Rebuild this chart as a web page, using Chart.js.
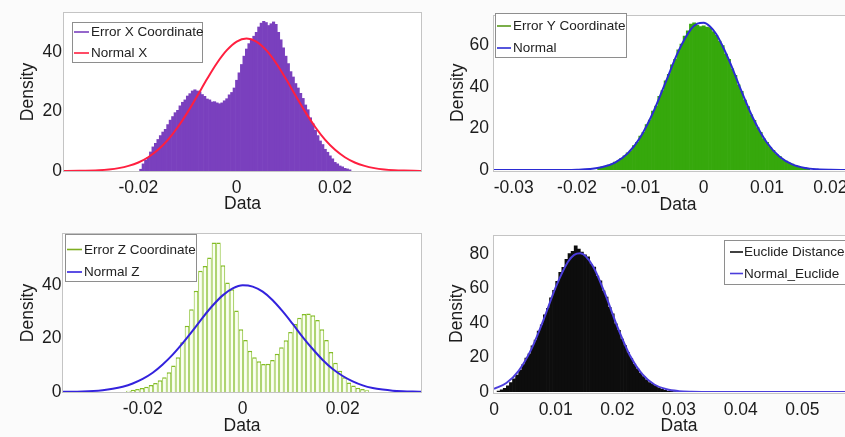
<!DOCTYPE html>
<html>
<head>
<meta charset="utf-8">
<title>Coordinate error distributions</title>
<script src="https://cdn.jsdelivr.net/npm/chart.js@4.4.1/dist/chart.umd.min.js"></script>
<style>
  html, body { margin: 0; padding: 0; width: 845px; height: 437px; overflow: hidden; background: #fbfbfb; }
  canvas { position: absolute; display: block; }
</style>
</head>
<body>
<canvas id="panelX"></canvas>
<canvas id="panelY"></canvas>
<canvas id="panelZ"></canvas>
<canvas id="panelE"></canvas>
<script>
// ---------------- Error X coordinate ----------------
const errXFirstBin = -0.0195;   // centre of the first bin
const errXBinWidth = 0.0005;
const errXDensity = [
  0.6, 2.4, 3.6, 4.6, 6.4, 8.1, 9.3, 10.6, 11.9, 13.1,
  14.0, 15.6, 17.1, 18.3, 19.6, 20.4, 21.9, 23.1, 23.9, 25.2,
  26.0, 26.9, 27.3, 26.9, 26.6, 25.7, 25.1, 24.2, 23.9, 23.2,
  23.3, 22.9, 22.6, 22.9, 23.6, 24.3, 25.6, 26.4, 27.9, 30.5,
  33.0, 35.8, 38.6, 41.0, 42.8, 44.2, 45.3, 46.6, 48.4, 49.7,
  50.3, 49.9, 48.9, 49.5, 50.1, 49.3, 46.6, 44.1, 41.4, 38.6,
  36.1, 33.4, 31.6, 29.4, 27.9, 26.1, 24.4, 22.2, 20.6, 17.9,
  15.9, 13.7, 11.9, 10.1, 8.9, 7.3, 6.3, 5.1, 4.1, 2.9,
  2.4, 1.7, 1.4, 0.9, 0.7, 0.4
];
const normalXAt = [
  -0.036, -0.032, -0.028, -0.026, -0.024, -0.022, -0.020, -0.018, -0.016, -0.014,
  -0.012, -0.010, -0.008, -0.006, -0.004, -0.002, 0, 0.002, 0.004, 0.006,
  0.008, 0.010, 0.012, 0.014, 0.016, 0.018, 0.020, 0.022, 0.024, 0.026,
  0.028, 0.030, 0.032, 0.034, 0.036, 0.038
];
const normalXDensity = [
  0.01, 0.06, 0.27, 0.53, 0.97, 1.71, 2.87, 4.63, 7.11, 10.45,
  14.7, 19.7, 25.3, 31.0, 36.3, 40.6, 43.5, 44.5, 43.5, 40.6,
  36.3, 31.0, 25.3, 19.7, 14.7, 10.45, 7.11, 4.63, 2.87, 1.71,
  0.97, 0.53, 0.27, 0.13, 0.06, 0.03
];
const ticksX_X = [-0.02, 0, 0.02];
const ticksX_Y = [0, 20, 40];

// ---------------- Error Y coordinate ----------------
const errYFirstBin = -0.0165;
const errYBinWidth = 0.0005;
const errYDensity = [
  0.9, 1.5, 1.7, 2.4, 2.8, 3.8, 4.3, 5.6, 6.8, 8.3,
  9.4, 11.8, 13.3, 16.3, 18.1, 21.8, 24.0, 28.3, 30.8, 35.4,
  38.2, 42.9, 46.0, 50.6, 53.3, 57.8, 60.6, 64.5, 67.0, 70.2,
  70.8, 69.6, 69.0, 69.4, 68.8, 68.5, 66.6, 64.8, 62.0, 59.9,
  55.8, 53.2, 48.7, 45.6, 41.0, 37.9, 33.6, 30.5, 26.6, 23.9,
  20.4, 18.1, 15.0, 13.3, 10.9, 9.5, 7.5, 6.6, 5.0, 4.3,
  3.3, 2.8, 2.1, 1.8, 1.2, 1.0, 0.7
];
const normalYAt = [
  -0.034, -0.030, -0.026, -0.022, -0.020, -0.018, -0.016, -0.014, -0.012, -0.010,
  -0.008, -0.006, -0.004, -0.002, -0.001, 0, 0.001, 0.002, 0.004, 0.006,
  0.008, 0.010, 0.012, 0.014, 0.016, 0.018, 0.020, 0.022, 0.026
];
const normalYDensity = [
  0, 0, 0.01, 0.04, 0.15, 0.48, 1.4, 3.6, 8.0, 15.8,
  27.6, 42.3, 57.1, 67.8, 70.4, 70.9, 69.1, 65.3, 52.9, 37.7,
  23.7, 13.1, 6.4, 2.7, 1.0, 0.34, 0.1, 0.03, 0
];
const ticksY_X = [-0.03, -0.02, -0.01, 0, 0.01, 0.02];
const ticksY_Y = [0, 20, 40, 60];

// ---------------- Error Z coordinate ----------------
const errZFirstBin = -0.02285;
const errZBinWidth = 0.0009;
const errZDensity = [
  0.5, 0.8, 1.1, 1.5, 2.0, 2.6, 3.4, 4.4, 5.5, 7.4,
  9.9, 13.0, 18.6, 24.8, 31.0, 37.9, 45.4, 47.2, 50.4, 56.0,
  56.0, 47.5, 41.0, 38.5, 30.5, 23.5, 19.5, 15.5, 13.0, 11.5,
  10.5, 10.6, 12.0, 14.3, 16.8, 19.4, 22.5, 25.5, 27.8, 29.2,
  29.4, 28.8, 27.0, 23.5, 19.5, 15.0, 11.0, 8.0, 5.5, 3.6,
  2.4, 1.6, 1.1, 0.7
];
const normalZAt = [
  -0.036, -0.032, -0.028, -0.026, -0.024, -0.022, -0.020, -0.018, -0.016, -0.014,
  -0.012, -0.010, -0.008, -0.006, -0.004, -0.002, 0, 0.002, 0.004, 0.006,
  0.008, 0.010, 0.012, 0.014, 0.016, 0.018, 0.020, 0.022, 0.024, 0.026,
  0.028, 0.030, 0.032, 0.034, 0.036
];
const normalZDensity = [
  0.05, 0.2, 0.69, 1.2, 2.0, 3.2, 4.9, 7.2, 10.3, 14.0,
  18.3, 23.0, 27.9, 32.4, 36.2, 38.8, 40.0, 39.5, 37.6, 34.4,
  30.2, 25.5, 20.6, 16.1, 12.0, 8.6, 6.0, 4.0, 2.5, 1.5,
  0.9, 0.5, 0.28, 0.15, 0.07
];
const ticksZ_X = [-0.02, 0, 0.02];
const ticksZ_Y = [0, 20, 40];

// ---------------- Euclidean distance ----------------
const distFirstBin = 0.00075;
const distBinWidth = 0.0005;
const distDensity = [
  0.5, 1.2, 2.2, 3.6, 5.4, 7.6, 9.8, 12.6, 15.9, 19.6,
  22.1, 26.8, 30.1, 35.3, 39.0, 44.8, 48.5, 54.6, 58.9, 64.2,
  69.4, 72.3, 76.9, 80.2, 81.6, 84.7, 82.9, 81.2, 79.6, 78.4,
  74.1, 72.5, 67.2, 64.4, 58.6, 55.0, 49.1, 45.3, 39.6, 35.8,
  30.7, 26.9, 22.8, 19.5, 16.2, 13.5, 11.0, 8.9, 7.0, 5.5,
  4.4, 3.4, 2.4, 1.6, 1.0, 0.6, 0.4, 0.25, 0.15, 0.1
];
const normalDistAt = [
  0, 0.002, 0.004, 0.006, 0.008, 0.010, 0.012, 0.013, 0.014, 0.016,
  0.018, 0.020, 0.022, 0.024, 0.026, 0.028, 0.030, 0.032, 0.034, 0.038,
  0.046, 0.054, 0.062
];
const normalDistDensity = [
  1.9, 5.2, 12.3, 24.4, 41.6, 60.7, 75.5, 79.5, 80.4, 73.2,
  57.0, 37.9, 21.5, 10.5, 4.35, 1.55, 0.47, 0.12, 0.03, 0,
  0, 0, 0
];
const ticksE_X = [0, 0.01, 0.02, 0.03, 0.04, 0.05];
const ticksE_Y = [0, 20, 40, 60, 80];

// ---------------- drawing ----------------
const FONT = '"Liberation Sans", Arial, Helvetica, sans-serif';
const TEXT = '#1c1c1c';
const AXIS_SIZE = 17.5;

function binPoints(first, width, values) {
  return values.map((v, i) => ({ x: first + i * width, y: v }));
}
function curvePoints(xs, ys) {
  return xs.map((x, i) => ({ x: x, y: ys[i] }));
}
function tickLabel(v) {
  return String(+Number(v).toFixed(4));
}

// white plot area with a light box around it
const framePlugin = {
  id: 'axesFrame',
  beforeDatasetsDraw(chart) {
    const { ctx, chartArea: r } = chart;
    ctx.save();
    ctx.fillStyle = '#ffffff';
    ctx.fillRect(r.left, r.top, r.right - r.left, r.bottom - r.top);
    ctx.strokeStyle = '#c4c4c4';
    ctx.lineWidth = 1;
    ctx.strokeRect(Math.round(r.left) - 0.5, Math.round(r.top) - 0.5,
                   Math.round(r.right - r.left) + 1, Math.round(r.bottom - r.top) + 1);
    ctx.restore();
  }
};

// boxed legend placed inside the plot, one row per dataset
const legendPlugin = {
  id: 'boxLegend',
  afterDraw(chart, args, opts) {
    const { ctx } = chart;
    ctx.save();
    ctx.fillStyle = '#ffffff';
    ctx.fillRect(opts.x, opts.y, opts.w, opts.h);
    ctx.strokeStyle = '#8e8e8e';
    ctx.lineWidth = 1;
    ctx.strokeRect(Math.round(opts.x) + 0.5, Math.round(opts.y) + 0.5, Math.round(opts.w) - 1, Math.round(opts.h) - 1);
    ctx.font = '13.5px ' + FONT;
    ctx.textBaseline = 'middle';
    ctx.textAlign = 'left';
    chart.data.datasets.forEach((ds, i) => {
      const y = opts.rows[i];
      ctx.strokeStyle = ds.legendColor;
      ctx.lineWidth = 1.6;
      ctx.beginPath();
      ctx.moveTo(opts.lineFrom, y);
      ctx.lineTo(opts.lineTo, y);
      ctx.stroke();
      ctx.fillStyle = '#222222';
      ctx.fillText(ds.label, opts.textX, y + 0.5);
    });
    ctx.restore();
  }
};

function drawPanel(id, p) {
  const c = document.getElementById(id);
  const box = p.canvas, a = p.area;
  c.width = box.w; c.height = box.h;
  c.style.left = box.x + 'px'; c.style.top = box.y + 'px';
  c.style.width = box.w + 'px'; c.style.height = box.h + 'px';
  const lg = p.legend;

  new Chart(c, {
    type: 'bar',
    data: {
      datasets: [
        Object.assign({
          type: 'bar', label: p.histLabel, data: p.hist,
          barPercentage: 1, categoryPercentage: 1, order: 1
        }, p.histStyle),
        {
          type: 'line', label: p.curveLabel, data: p.curve,
          borderColor: p.curveColor, legendColor: p.curveColor, borderWidth: 2,
          pointRadius: 0, cubicInterpolationMode: 'monotone', fill: false, order: 0
        }
      ]
    },
    options: {
      responsive: false,
      animation: false,
      devicePixelRatio: 1,
      events: [],
      layout: { padding: { left: 0, bottom: 0, top: a.top - box.y, right: box.x + box.w - a.right } },
      scales: {
        x: {
          type: 'linear', offset: false, min: p.xMin, max: p.xMax,
          afterFit: s => { s.height = box.y + box.h - a.bottom; },
          afterBuildTicks: s => { s.ticks = p.xTicks.map(v => ({ value: v })); },
          grid: { display: false, drawTicks: false },
          border: { display: false },
          ticks: { autoSkip: false, maxRotation: 0, padding: p.xTickPad, color: TEXT,
                   font: { family: FONT, size: AXIS_SIZE }, callback: tickLabel },
          title: { display: true, text: 'Data', color: TEXT,
                   font: { family: FONT, size: AXIS_SIZE }, padding: { top: 0, bottom: p.xTitlePad } }
        },
        y: {
          type: 'linear', min: 0, max: p.yMax,
          afterFit: s => { s.width = a.left - box.x; },
          afterBuildTicks: s => { s.ticks = p.yTicks.map(v => ({ value: v })); },
          grid: { display: false, drawTicks: false },
          border: { display: false },
          ticks: { autoSkip: false, padding: p.yTickPad, color: TEXT,
                   font: { family: FONT, size: AXIS_SIZE }, callback: tickLabel },
          title: { display: true, text: 'Density', color: TEXT,
                   font: { family: FONT, size: AXIS_SIZE }, padding: { top: p.yTitlePad, bottom: 0 } }
        }
      },
      plugins: {
        legend: { display: false },
        tooltip: { enabled: false },
        boxLegend: {
          x: lg.x - box.x, y: lg.y - box.y, w: lg.w, h: lg.h,
          rows: lg.rows.map(r => r - box.y),
          lineFrom: lg.line[0] - box.x, lineTo: lg.line[1] - box.x, textX: lg.textX - box.x
        }
      }
    },
    plugins: [framePlugin, legendPlugin]
  });
}

drawPanel('panelX', {
  canvas: { x: 0, y: 0, w: 423, h: 220 },
  area: { left: 64, top: 13, right: 421, bottom: 171 },
  xMin: -0.03512, xMax: 0.03748, yMax: 53.1,
  xTicks: ticksX_X, yTicks: ticksX_Y,
  xTickPad: 7, xTitlePad: 4.9, yTickPad: 2, yTitlePad: 17.5,
  histLabel: 'Error X Coordinate',
  hist: binPoints(errXFirstBin, errXBinWidth, errXDensity),
  histStyle: { backgroundColor: '#7a40be', legendColor: '#7a40be', borderWidth: 0 },
  curveLabel: 'Normal X', curveColor: '#ff1f3f',
  curve: curvePoints(normalXAt, normalXDensity),
  legend: { x: 72, y: 22, w: 131, h: 41, rows: [32, 53], line: [74, 89], textX: 91 }
});

drawPanel('panelY', {
  canvas: { x: 423, y: 0, w: 450, h: 220 },
  area: { left: 494, top: 13, right: 862, bottom: 170 },
  xMin: -0.03311, xMax: 0.025, yMax: 74.35,
  xTicks: ticksY_X, yTicks: ticksY_Y,
  xTickPad: 7.8, xTitlePad: 3.9, yTickPad: 5, yTitlePad: 24.5,
  histLabel: 'Error Y Coordinate',
  hist: binPoints(errYFirstBin, errYBinWidth, errYDensity),
  histStyle: { backgroundColor: '#36a80c', legendColor: '#5a9a1c', borderWidth: 0 },
  curveLabel: 'Normal', curveColor: '#2b2bd4',
  curve: curvePoints(normalYAt, normalYDensity),
  legend: { x: 495, y: 13, w: 132, h: 45, rows: [26, 48], line: [497, 511], textX: 513 }
});

drawPanel('panelZ', {
  canvas: { x: 0, y: 220, w: 423, h: 217 },
  area: { left: 63, top: 234, right: 421, bottom: 392 },
  xMin: -0.03594, xMax: 0.03566, yMax: 59.2,
  xTicks: ticksZ_X, yTicks: ticksZ_Y,
  xTickPad: 6.6, xTitlePad: 0, yTickPad: 1.5, yTitlePad: 17.5,
  histLabel: 'Error Z Coordinate',
  hist: binPoints(errZFirstBin, errZBinWidth, errZDensity),
  histStyle: { backgroundColor: '#fbfff2', borderColor: '#84bd26', legendColor: '#7fae22',
               borderWidth: { top: 1.5, left: 1, right: 1, bottom: 0 }, inflateAmount: 0 },
  curveLabel: 'Normal Z', curveColor: '#3322dd',
  curve: curvePoints(normalZAt, normalZDensity),
  legend: { x: 65, y: 234, w: 132, h: 48, rows: [249.5, 272], line: [67, 82], textX: 84 }
});

drawPanel('panelE', {
  canvas: { x: 423, y: 220, w: 450, h: 217 },
  area: { left: 494, top: 235, right: 864, bottom: 392 },
  xMin: 0, xMax: 0.06, yMax: 90.75,
  xTicks: ticksE_X, yTicks: ticksE_Y,
  xTickPad: 7.8, xTitlePad: 0, yTickPad: 5, yTitlePad: 23.5,
  histLabel: 'Euclide Distance',
  hist: binPoints(distFirstBin, distBinWidth, distDensity),
  histStyle: { backgroundColor: '#0d0d0d', legendColor: '#111111', borderWidth: 0 },
  curveLabel: 'Normal_Euclide', curveColor: '#4b3ddb',
  curve: curvePoints(normalDistAt, normalDistDensity),
  legend: { x: 724, y: 240, w: 160, h: 45, rows: [252, 273.5], line: [730, 743], textX: 744 }
});
</script>
</body>
</html>
